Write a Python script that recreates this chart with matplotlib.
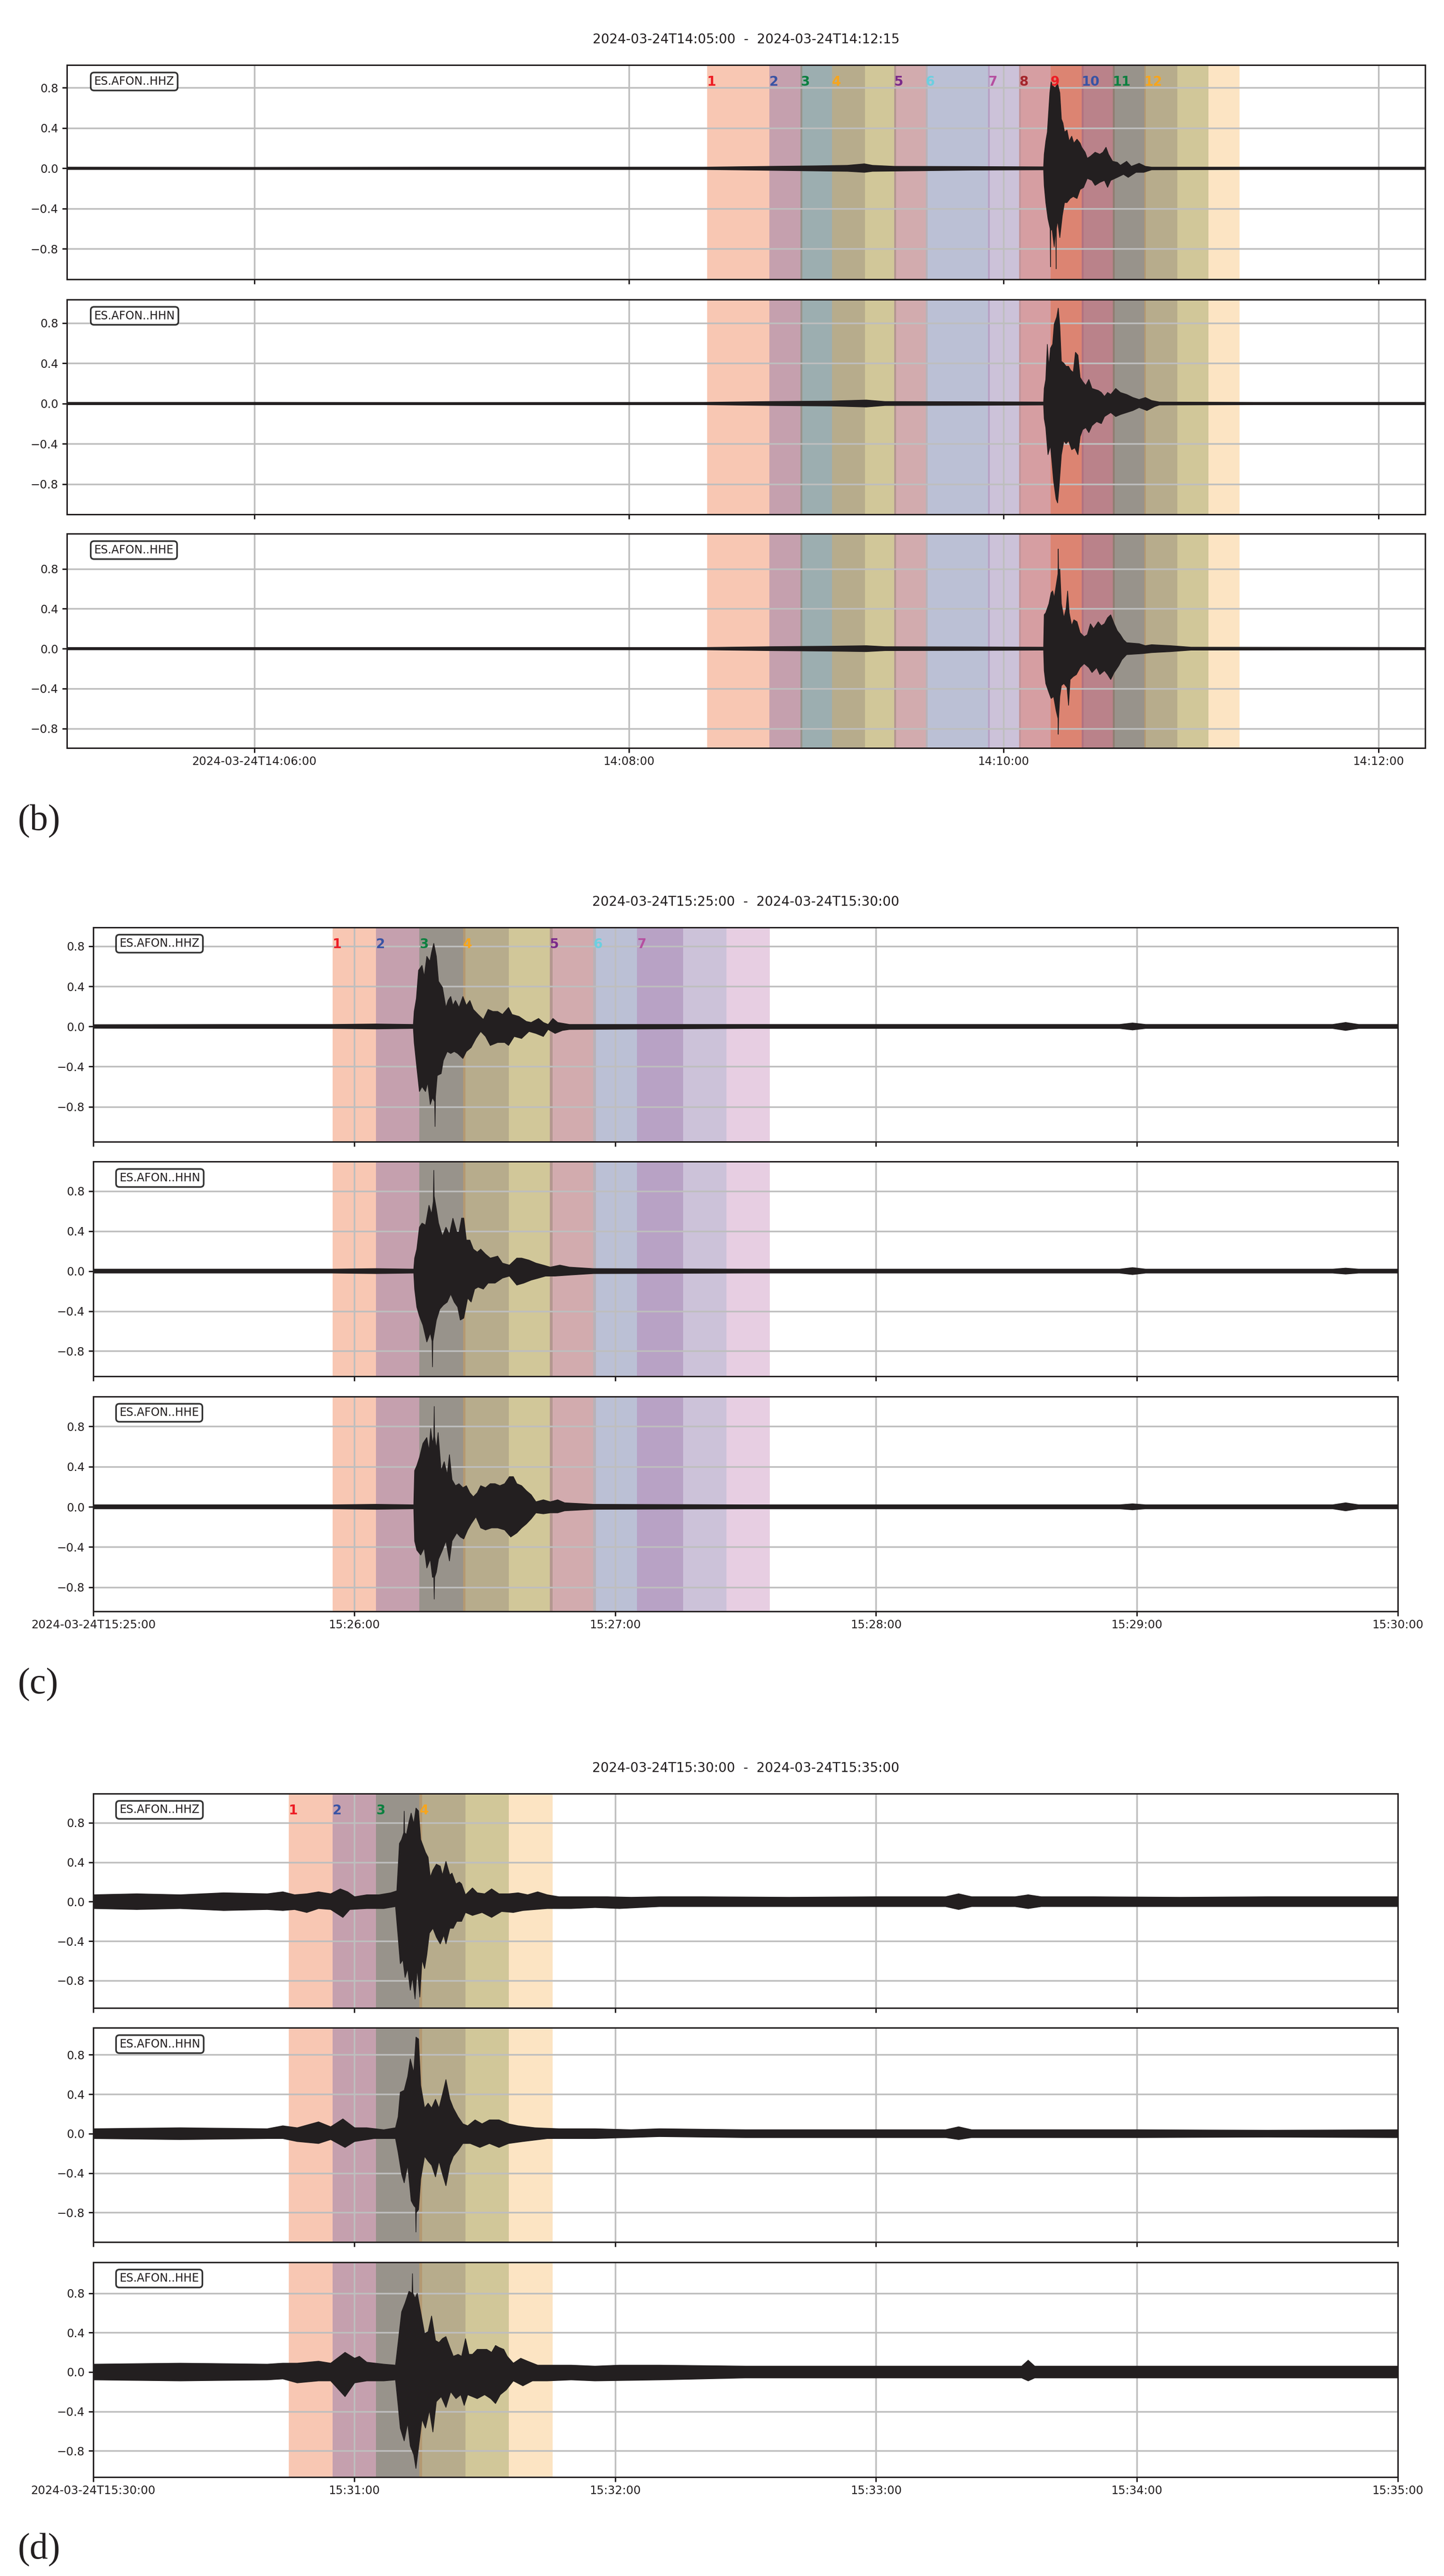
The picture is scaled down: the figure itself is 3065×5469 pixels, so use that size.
import numpy as np
import matplotlib
matplotlib.use("Agg")
import matplotlib.pyplot as plt
import matplotlib.transforms as mtransforms

# ---- window starts (s after panel start), each window lasts window_len seconds
window_len = 30.6
b_starts = [205, 225, 235, 245, 265, 275, 295, 305, 315, 325, 335, 345]
c_starts = [55, 65, 75, 85, 105, 115, 125]
d_starts = [45, 55, 65, 75]

span_colors = ['#eb4805', '#5246a3', '#32763b', '#f8a83a', '#742a7e', '#81c5d1', '#b25fa2', '#af320e']
label_colors = ['#ed1c24', '#3953a4', '#0c8040', '#f7a51c', '#7b2a8a', '#6dcfe0', '#b54fa0', '#a4262c']

channels = ['ES.AFON..HHZ', 'ES.AFON..HHN', 'ES.AFON..HHE']

b_title = '2024-03-24T14:05:00  -  2024-03-24T14:12:15'
c_title = '2024-03-24T15:25:00  -  2024-03-24T15:30:00'
d_title = '2024-03-24T15:30:00  -  2024-03-24T15:35:00'

b_ticks = [60, 180, 300, 420]
b_ticklabels = ['2024-03-24T14:06:00', '14:08:00', '14:10:00', '14:12:00']
c_ticks = [0, 60, 120, 180, 240, 300]
c_ticklabels = ['2024-03-24T15:25:00', '15:26:00', '15:27:00', '15:28:00', '15:29:00', '15:30:00']
d_ticks = [0, 60, 120, 180, 240, 300]
d_ticklabels = ['2024-03-24T15:30:00', '15:31:00', '15:32:00', '15:33:00', '15:34:00', '15:35:00']

# ---- trace envelopes: (seconds, amplitude)
b_z_up = [(0, 0.012), (60, 0.010), (120, 0.012), (204, 0.012), (225, 0.02), (240, 0.025), (250, 0.03),
          (255.4, 0.045), (258, 0.03), (265, 0.02), (290, 0.018), (312.8, 0.015),
          (313.0, 0.14), (313.5, 0.27), (314.0, 0.36), (314.8, 0.75), (315.2, 0.86), (315.7, 0.82),
          (316.5, 0.80), (317.3, 0.84), (318.0, 0.75), (318.5, 0.49), (319.0, 0.45), (319.5, 0.36),
          (320.3, 0.38), (321.0, 0.27), (321.8, 0.32), (322.5, 0.25), (323.5, 0.29), (324.5, 0.25),
          (325.0, 0.21), (326.1, 0.16), (326.8, 0.10), (327.8, 0.12), (329.3, 0.16), (330.8, 0.14),
          (331.8, 0.16), (332.8, 0.21), (333.6, 0.14), (334.9, 0.07), (336.4, 0.06), (337.4, 0.03),
          (339.4, 0.07), (340.9, 0.02), (343.4, 0.05), (345.4, 0.02), (347.4, 0.012), (380, 0.012),
          (435, 0.012)]
b_z_lo = [(0, -0.012), (120, -0.012), (204, -0.012), (225, -0.02), (250, -0.03), (255.4, -0.04),
          (258, -0.03), (290, -0.018), (312.8, -0.015),
          (313.0, -0.17), (313.5, -0.34), (314.2, -0.50), (314.9, -0.6), (315.0, -0.98), (315.1, -0.62),
          (315.5, -0.60), (316.2, -0.78), (316.7, -0.6), (316.8, -1.00), (316.9, -0.6), (317.3, -0.52),
          (318.0, -0.69), (318.8, -0.47), (319.5, -0.34), (320.3, -0.34), (321.3, -0.30), (322.3, -0.28),
          (323.5, -0.30), (324.5, -0.21), (325.6, -0.19), (326.8, -0.10), (328.3, -0.12), (329.3, -0.17),
          (330.8, -0.14), (332.3, -0.12), (333.3, -0.19), (334.3, -0.12), (336.4, -0.09), (338.4, -0.06),
          (339.9, -0.09), (342.4, -0.04), (344.9, -0.04), (347.4, -0.015), (380, -0.012), (435, -0.012)]

b_n_up = [(0, 0.012), (60, 0.012), (120, 0.010), (204, 0.012), (225, 0.02), (245, 0.025), (256, 0.035),
          (262, 0.02), (290, 0.018), (312.8, 0.015),
          (313.0, 0.15), (313.5, 0.24), (314.0, 0.59), (314.5, 0.37), (315.0, 0.55), (315.7, 0.59),
          (316.2, 0.79), (317.0, 0.86), (317.5, 0.95), (318.0, 0.77), (318.5, 0.42), (319.3, 0.40),
          (320.0, 0.37), (320.8, 0.37), (321.5, 0.33), (322.3, 0.31), (323.0, 0.51), (323.8, 0.48),
          (324.5, 0.26), (325.3, 0.22), (326.3, 0.18), (327.3, 0.24), (328.3, 0.15), (330.3, 0.13),
          (331.3, 0.11), (332.3, 0.07), (333.3, 0.11), (334.3, 0.09), (335.9, 0.15), (337.4, 0.11),
          (339.4, 0.09), (341.4, 0.06), (343.4, 0.04), (345.4, 0.06), (347.4, 0.03), (349.9, 0.015),
          (380, 0.012), (435, 0.012)]
b_n_lo = [(0, -0.012), (120, -0.012), (204, -0.012), (225, -0.02), (245, -0.025), (256, -0.035),
          (262, -0.02), (290, -0.018), (312.8, -0.015),
          (313.0, -0.15), (313.5, -0.24), (314.2, -0.51), (315.0, -0.42), (315.5, -0.59), (316.0, -0.77),
          (316.8, -0.95), (317.3, -0.99), (317.8, -0.81), (318.5, -0.51), (319.3, -0.37), (320.0, -0.40),
          (320.8, -0.37), (321.8, -0.46), (322.8, -0.44), (323.8, -0.51), (324.5, -0.33), (325.3, -0.26),
          (326.3, -0.24), (327.3, -0.29), (328.3, -0.22), (329.8, -0.18), (331.3, -0.20), (332.3, -0.13),
          (334.3, -0.09), (335.9, -0.13), (337.4, -0.11), (339.4, -0.09), (341.4, -0.07), (343.4, -0.04),
          (345.9, -0.07), (348.4, -0.03), (349.9, -0.015), (380, -0.012), (435, -0.012)]

b_e_up = [(0, 0.012), (60, 0.012), (120, 0.012), (204, 0.012), (225, 0.02), (245, 0.025), (256, 0.03),
          (262, 0.02), (290, 0.018), (312.8, 0.015),
          (313.0, 0.34), (313.5, 0.36), (314.5, 0.45), (315.2, 0.56), (315.7, 0.58), (316.2, 0.51),
          (317.0, 0.67), (317.4, 0.75), (317.5, 1.0), (317.6, 0.78), (318.0, 0.80), (318.5, 0.45),
          (319.3, 0.31), (320.0, 0.40), (320.5, 0.58), (321.0, 0.36), (321.8, 0.23), (322.5, 0.29),
          (323.5, 0.27), (324.5, 0.16), (325.8, 0.12), (326.8, 0.14), (327.8, 0.25), (328.8, 0.20),
          (330.3, 0.27), (331.3, 0.23), (332.3, 0.25), (333.3, 0.31), (334.3, 0.34), (335.4, 0.25),
          (336.4, 0.18), (337.4, 0.14), (338.4, 0.09), (339.4, 0.06), (343.4, 0.05), (345.4, 0.03),
          (347.4, 0.04), (353.5, 0.03), (360, 0.015), (435, 0.012)]
b_e_lo = [(0, -0.012), (120, -0.012), (204, -0.012), (225, -0.02), (245, -0.025), (256, -0.03),
          (262, -0.02), (290, -0.018), (312.8, -0.015),
          (313.0, -0.22), (313.5, -0.35), (314.5, -0.44), (315.2, -0.50), (316.0, -0.48), (316.8, -0.62),
          (317.4, -0.7), (317.5, -0.86), (317.6, -0.7), (318.0, -0.48), (318.5, -0.37), (319.3, -0.35),
          (320.3, -0.39), (320.8, -0.57), (321.3, -0.31), (322.3, -0.28), (323.3, -0.26), (324.5, -0.19),
          (325.8, -0.15), (327.3, -0.19), (328.3, -0.24), (329.8, -0.19), (330.8, -0.26), (332.3, -0.22),
          (333.3, -0.26), (334.3, -0.31), (335.4, -0.24), (336.9, -0.17), (337.9, -0.11), (339.4, -0.06),
          (344.4, -0.05), (347.4, -0.04), (353.5, -0.03), (360, -0.015), (435, -0.012)]

c_z_up = [(0, 0.018), (30, 0.02), (55, 0.02), (65, 0.025), (73.6, 0.02),
          (73.8, 0.15), (74.3, 0.28), (74.8, 0.56), (75.6, 0.61), (76.1, 0.50), (76.7, 0.70), (77.4, 0.65),
          (77.8, 0.74), (78.3, 0.83), (78.9, 0.70), (79.4, 0.45), (80.3, 0.39), (81.1, 0.19), (81.6, 0.26),
          (82.2, 0.30), (82.7, 0.21), (83.3, 0.26), (84.1, 0.19), (85.0, 0.30), (85.8, 0.21), (86.6, 0.26),
          (87.4, 0.17), (88.5, 0.12), (89.7, 0.07), (90.8, 0.17), (91.9, 0.15), (93.0, 0.15), (94.1, 0.12),
          (95.5, 0.19), (96.3, 0.12), (97.9, 0.10), (99.6, 0.05), (100.7, 0.04), (102.4, 0.08),
          (103.5, 0.04), (104.6, 0.02), (105.7, 0.08), (106.8, 0.04), (109.5, 0.02), (150, 0.02),
          (200, 0.02), (236, 0.02), (239, 0.035), (242, 0.02), (285, 0.02), (288, 0.04), (291, 0.02),
          (300, 0.02)]
c_z_lo = [(0, -0.018), (30, -0.02), (55, -0.02), (65, -0.025), (73.6, -0.02),
          (73.8, -0.16), (74.4, -0.41), (75.0, -0.65), (75.6, -0.60), (76.4, -0.65), (76.9, -0.56),
          (77.5, -0.78), (78.0, -0.71), (78.5, -0.75), (78.6, -1.0), (78.7, -0.7), (79.1, -0.49),
          (80.0, -0.47), (80.5, -0.34), (81.4, -0.25), (82.2, -0.27), (83.0, -0.25), (83.8, -0.27),
          (85.0, -0.32), (85.8, -0.25), (86.9, -0.21), (88.0, -0.12), (89.1, -0.05), (90.2, -0.10),
          (91.3, -0.19), (93.0, -0.16), (94.6, -0.16), (95.5, -0.19), (96.8, -0.10), (98.5, -0.12),
          (100.2, -0.05), (101.8, -0.07), (103.5, -0.10), (104.6, -0.03), (106.2, -0.07), (107.9, -0.04),
          (109.5, -0.03), (150, -0.02), (200, -0.02), (236, -0.02), (239, -0.035), (242, -0.02),
          (285, -0.02), (288, -0.04), (291, -0.02), (300, -0.02)]

c_n_up = [(0, 0.02), (30, 0.02), (55, 0.02), (65, 0.025), (73.7, 0.02),
          (73.9, 0.13), (74.4, 0.22), (75.0, 0.44), (75.6, 0.48), (76.4, 0.46), (77.2, 0.66), (77.8, 0.57),
          (78.2, 0.7), (78.3, 1.01), (78.4, 0.75), (78.9, 0.62), (79.4, 0.48), (80.3, 0.35), (81.1, 0.44),
          (81.9, 0.37), (82.7, 0.53), (83.6, 0.39), (84.1, 0.39), (84.7, 0.53), (85.2, 0.53), (85.8, 0.31),
          (86.6, 0.31), (87.4, 0.22), (88.3, 0.19), (89.1, 0.22), (90.2, 0.17), (91.3, 0.13), (93.0, 0.15),
          (94.1, 0.08), (95.7, 0.06), (97.4, 0.13), (98.5, 0.13), (100.2, 0.11), (101.8, 0.08),
          (103.5, 0.06), (105.1, 0.04), (107.3, 0.06), (109.5, 0.04), (115, 0.025), (150, 0.02),
          (236, 0.02), (239, 0.035), (242, 0.02), (285, 0.02), (288, 0.03), (291, 0.02), (300, 0.02)]
c_n_lo = [(0, -0.02), (30, -0.02), (55, -0.02), (65, -0.025), (73.7, -0.02),
          (73.9, -0.18), (74.4, -0.36), (75.0, -0.45), (75.8, -0.54), (76.7, -0.71), (77.5, -0.62),
          (77.9, -0.7), (78.0, -0.96), (78.1, -0.7), (78.9, -0.49), (79.7, -0.38), (80.5, -0.34),
          (81.4, -0.31), (82.2, -0.23), (83.0, -0.31), (83.8, -0.36), (84.4, -0.49), (85.2, -0.47),
          (86.1, -0.27), (86.9, -0.31), (87.7, -0.18), (88.5, -0.16), (89.7, -0.18), (90.8, -0.12),
          (92.4, -0.12), (94.1, -0.07), (95.7, -0.05), (97.4, -0.14), (99.0, -0.12), (100.7, -0.09),
          (102.4, -0.07), (104.0, -0.05), (106.2, -0.05), (109.5, -0.04), (115, -0.025), (150, -0.02),
          (236, -0.02), (239, -0.035), (242, -0.02), (285, -0.02), (288, -0.03), (291, -0.02),
          (300, -0.02)]

c_e_up = [(0, 0.02), (30, 0.02), (55, 0.02), (65, 0.025), (73.7, 0.02),
          (73.9, 0.36), (74.4, 0.41), (75.0, 0.49), (75.8, 0.63), (76.7, 0.69), (77.2, 0.56), (77.6, 0.78),
          (78.0, 0.63), (78.3, 0.7), (78.4, 1.0), (78.5, 0.7), (78.9, 0.58), (79.3, 0.74), (80.0, 0.36),
          (80.7, 0.45), (81.4, 0.32), (81.9, 0.52), (82.5, 0.27), (83.3, 0.21), (84.1, 0.23), (85.0, 0.19),
          (85.8, 0.21), (86.6, 0.14), (87.4, 0.10), (88.3, 0.14), (89.1, 0.21), (90.2, 0.19), (91.3, 0.23),
          (92.4, 0.23), (93.5, 0.21), (94.6, 0.23), (95.7, 0.30), (96.6, 0.30), (97.4, 0.23), (98.5, 0.21),
          (99.6, 0.16), (100.7, 0.12), (101.8, 0.05), (103.5, 0.07), (105.1, 0.05), (106.8, 0.07),
          (108.4, 0.04), (115, 0.025), (150, 0.02), (236, 0.02), (239, 0.03), (242, 0.02), (285, 0.02),
          (288, 0.04), (291, 0.02), (300, 0.02)]
c_e_lo = [(0, -0.02), (30, -0.02), (55, -0.02), (65, -0.025), (73.7, -0.02),
          (73.9, -0.34), (74.4, -0.43), (75.3, -0.48), (76.1, -0.41), (76.7, -0.61), (77.5, -0.52),
          (78.0, -0.70), (78.3, -0.7), (78.4, -0.92), (78.5, -0.7), (78.9, -0.65), (79.4, -0.52),
          (80.3, -0.43), (81.1, -0.34), (81.9, -0.54), (82.5, -0.34), (83.6, -0.26), (84.4, -0.30),
          (85.2, -0.32), (86.1, -0.23), (86.9, -0.17), (88.0, -0.10), (89.1, -0.21), (90.2, -0.23),
          (91.6, -0.21), (93.0, -0.21), (94.6, -0.23), (96.0, -0.30), (97.4, -0.26), (98.5, -0.21),
          (99.6, -0.17), (100.7, -0.12), (101.8, -0.06), (103.5, -0.07), (105.1, -0.06), (106.8, -0.06),
          (108.4, -0.04), (115, -0.025), (150, -0.02), (236, -0.02), (239, -0.03), (242, -0.02),
          (285, -0.02), (288, -0.04), (291, -0.02), (300, -0.02)]

d_z_up = [(0, 0.07), (10, 0.08), (20, 0.07), (30, 0.09), (40, 0.08),
          (43.6, 0.10), (46.3, 0.07), (49.1, 0.08), (51.8, 0.10), (54.6, 0.08), (56.8, 0.13), (58.5, 0.10),
          (60.1, 0.05), (62.9, 0.07), (65.7, 0.07), (68.4, 0.09), (69.8, 0.11), (70.4, 0.59), (70.9, 0.63),
          (71.4, 0.7), (71.5, 0.92), (71.6, 0.7), (72.0, 0.68), (72.6, 0.81), (73.1, 0.90), (73.7, 0.79),
          (74.2, 0.95), (74.8, 0.92), (75.3, 0.63), (75.9, 0.56), (76.4, 0.50), (77.0, 0.45), (77.5, 0.25),
          (78.1, 0.32), (78.9, 0.38), (79.8, 0.36), (80.3, 0.27), (81.1, 0.41), (82.0, 0.27), (82.5, 0.29),
          (83.4, 0.18), (84.2, 0.20), (84.7, 0.18), (85.6, 0.07), (87.2, 0.14), (88.3, 0.09), (90.0, 0.08),
          (91.6, 0.13), (93.3, 0.08), (95.5, 0.08), (97.7, 0.09), (99.9, 0.07), (102.2, 0.10),
          (104.4, 0.07), (107.1, 0.05), (112.7, 0.05), (118.2, 0.05), (123.7, 0.045), (130.2, 0.05),
          (140, 0.05), (160, 0.045), (180, 0.05), (196, 0.05), (199, 0.08), (202, 0.05), (212, 0.05),
          (215, 0.07), (218, 0.05), (230, 0.05), (250, 0.045), (270, 0.05), (290, 0.05), (300, 0.05)]
d_z_lo = [(0, -0.07), (10, -0.08), (20, -0.07), (30, -0.09), (40, -0.08),
          (43.6, -0.09), (46.3, -0.08), (49.1, -0.11), (51.8, -0.07), (54.6, -0.08), (57.4, -0.16),
          (59.0, -0.08), (62.9, -0.07), (66.8, -0.07), (69.5, -0.05), (70.1, -0.36), (70.6, -0.63),
          (71.2, -0.59), (71.7, -0.77), (72.3, -0.68), (72.9, -0.90), (73.4, -0.77), (74.0, -0.99),
          (74.5, -0.68), (75.1, -0.97), (75.6, -0.59), (76.2, -0.68), (76.7, -0.54), (77.3, -0.32),
          (78.1, -0.27), (78.9, -0.36), (79.8, -0.43), (80.6, -0.34), (81.1, -0.43), (82.0, -0.27),
          (82.8, -0.27), (83.6, -0.20), (84.7, -0.20), (85.6, -0.11), (87.2, -0.14), (89.4, -0.11),
          (91.6, -0.16), (93.9, -0.10), (96.6, -0.11), (98.8, -0.09), (101.6, -0.08), (104.4, -0.07),
          (109.9, -0.07), (115.4, -0.06), (121.0, -0.07), (130.2, -0.05), (140, -0.05), (160, -0.05),
          (180, -0.05), (196, -0.05), (199, -0.08), (202, -0.05), (212, -0.05), (215, -0.07),
          (218, -0.05), (230, -0.05), (250, -0.05), (270, -0.05), (290, -0.05), (300, -0.05)]

d_n_up = [(0, 0.05), (20, 0.06), (40, 0.05),
          (43.6, 0.08), (46.9, 0.06), (51.8, 0.12), (54.6, 0.07), (57.4, 0.15), (60.1, 0.06), (62.9, 0.06),
          (66.8, 0.04), (69.5, 0.06), (70.1, 0.17), (70.6, 0.42), (71.5, 0.44), (72.3, 0.58), (72.9, 0.76),
          (73.7, 0.62), (74.2, 0.98), (74.8, 0.96), (75.3, 0.49), (76.2, 0.26), (77.0, 0.31), (77.8, 0.26),
          (78.7, 0.35), (79.5, 0.26), (80.3, 0.40), (81.1, 0.55), (82.0, 0.35), (82.8, 0.26), (83.9, 0.17),
          (85.0, 0.10), (86.1, 0.08), (87.8, 0.14), (89.4, 0.10), (91.1, 0.14), (93.3, 0.14), (95.5, 0.10),
          (97.7, 0.08), (101.6, 0.06), (107.1, 0.05), (115.4, 0.05), (123.7, 0.04), (130.2, 0.05),
          (150, 0.04), (196, 0.04), (199, 0.07), (202, 0.04), (240, 0.04), (270, 0.035), (300, 0.04)]
d_n_lo = [(0, -0.05), (20, -0.06), (40, -0.05),
          (43.6, -0.05), (46.9, -0.08), (51.8, -0.10), (54.6, -0.06), (57.9, -0.14), (60.1, -0.08),
          (64.6, -0.05), (69.5, -0.05), (70.1, -0.19), (70.9, -0.41), (71.5, -0.50), (72.3, -0.32),
          (73.1, -0.68), (73.7, -0.73), (74.1, -0.75), (74.2, -1.0), (74.3, -0.8), (74.8, -0.77),
          (75.3, -0.46), (76.2, -0.23), (77.0, -0.28), (77.8, -0.32), (78.7, -0.44), (79.5, -0.28),
          (80.3, -0.41), (81.1, -0.53), (82.0, -0.32), (82.8, -0.23), (83.9, -0.17), (85.0, -0.10),
          (86.7, -0.10), (88.9, -0.14), (91.1, -0.10), (93.3, -0.14), (95.5, -0.10), (98.8, -0.08),
          (104.4, -0.05), (115.4, -0.05), (130.2, -0.03), (150, -0.04), (196, -0.04), (199, -0.06),
          (202, -0.04), (240, -0.04), (270, -0.035), (300, -0.04)]

d_e_up = [(0, 0.08), (20, 0.09), (40, 0.08),
          (43.6, 0.09), (46.9, 0.09), (51.8, 0.11), (54.6, 0.09), (57.9, 0.20), (60.1, 0.14), (61.2, 0.16),
          (62.9, 0.10), (66.8, 0.08), (69.5, 0.07), (70.1, 0.30), (70.9, 0.61), (71.7, 0.70), (72.6, 0.82),
          (73.3, 0.8), (73.4, 1.0), (73.5, 0.8), (74.0, 0.75), (74.5, 0.80), (75.3, 0.61), (76.2, 0.39),
          (77.0, 0.41), (77.8, 0.57), (78.7, 0.32), (79.5, 0.30), (80.3, 0.34), (81.1, 0.36), (82.0, 0.25),
          (82.8, 0.16), (83.9, 0.18), (84.7, 0.16), (85.6, 0.34), (86.4, 0.18), (87.2, 0.18), (88.3, 0.23),
          (89.4, 0.23), (90.5, 0.23), (91.6, 0.20), (92.5, 0.27), (93.3, 0.25), (94.4, 0.23), (95.2, 0.16),
          (96.6, 0.09), (98.3, 0.14), (99.9, 0.11), (102.2, 0.07), (109.9, 0.07), (115.4, 0.06),
          (121.0, 0.07), (130.2, 0.07), (150, 0.06), (180, 0.06), (213.5, 0.06), (215, 0.12),
          (216.5, 0.06), (250, 0.06), (280, 0.06), (300, 0.06)]
d_e_lo = [(0, -0.08), (20, -0.09), (40, -0.08),
          (43.6, -0.07), (46.9, -0.11), (51.8, -0.09), (54.6, -0.09), (57.9, -0.25), (60.1, -0.11),
          (62.9, -0.09), (66.8, -0.09), (69.5, -0.08), (70.1, -0.34), (70.6, -0.57), (71.5, -0.70),
          (72.3, -0.52), (72.9, -0.75), (73.7, -0.84), (74.2, -0.98), (75.1, -0.66), (75.6, -0.48),
          (76.4, -0.57), (77.3, -0.39), (78.1, -0.61), (78.9, -0.30), (80.0, -0.25), (81.1, -0.36),
          (82.2, -0.20), (83.4, -0.27), (84.5, -0.23), (85.3, -0.34), (86.1, -0.23), (87.2, -0.25),
          (88.3, -0.27), (90.0, -0.23), (91.4, -0.27), (92.5, -0.32), (93.6, -0.23), (95.0, -0.18),
          (96.6, -0.09), (98.8, -0.14), (101.0, -0.09), (104.4, -0.09), (109.9, -0.08), (115.4, -0.09),
          (130.2, -0.08), (150, -0.06), (180, -0.06), (213.5, -0.06), (215, -0.09), (216.5, -0.06),
          (250, -0.06), (280, -0.06), (300, -0.06)]

INK = '#231f20'
W, H = 3065, 5469

plt.rcParams.update({
    'font.family': 'DejaVu Sans',
    'axes.linewidth': 2.2,
    'axes.edgecolor': INK,
    'xtick.major.size': 7.2, 'ytick.major.size': 7.2,
    'xtick.major.width': 2.2, 'ytick.major.width': 2.2,
    'xtick.major.pad': 5, 'ytick.major.pad': 6,
    'xtick.labelsize': 17.5, 'ytick.labelsize': 17.5,
    'xtick.color': INK, 'ytick.color': INK,
    'text.color': INK,
})

fig = plt.figure(figsize=(W / 100, H / 100), dpi=100)


def px_axes(left, right, top, bottom):
    return fig.add_axes([left / W, 1 - bottom / H, (right - left) / W, (bottom - top) / H])


def draw_env(ax, up, lo):
    tu, au = np.array(up).T
    tl, al = np.array(lo).T
    ax.fill(np.r_[tu, tl[::-1]], np.r_[au, al[::-1]], color=INK, lw=1.0, zorder=3)


panels = [
    dict(left=142, right=3025, tops=[138.3, 635.7, 1133.2], bots=[592.7, 1092, 1587.6],
         ylims=[(-1.101, 1.025), (-1.102, 1.035), (-0.994, 1.152)], xmax=435,
         starts=b_starts, traces=[(b_z_up, b_z_lo), (b_n_up, b_n_lo), (b_e_up, b_e_lo)],
         ticks=b_ticks, ticklabels=b_ticklabels, title=b_title, tag='(b)', tag_y=1744),
    dict(left=198, right=2967, tops=[1968.7, 2466.2, 2964.6], bots=[2424, 2921.5, 3420.9],
         ylims=[(-1.150, 0.989), (-1.050, 1.095), (-1.039, 1.098)], xmax=300,
         starts=c_starts, traces=[(c_z_up, c_z_lo), (c_n_up, c_n_lo), (c_e_up, c_e_lo)],
         ticks=c_ticks, ticklabels=c_ticklabels, title=c_title, tag='(c)', tag_y=3577),
    dict(left=198, right=2967, tops=[3807.7, 4305.1, 4802.6], bots=[4263, 4759.5, 5258.9],
         ylims=[(-1.078, 1.097), (-1.097, 1.074), (-1.065, 1.115)], xmax=300,
         starts=d_starts, traces=[(d_z_up, d_z_lo), (d_n_up, d_n_lo), (d_e_up, d_e_lo)],
         ticks=d_ticks, ticklabels=d_ticklabels, title=d_title, tag='(d)', tag_y=5414),
]

for p in panels:
    for k in range(3):
        ax = px_axes(p['left'], p['right'], p['tops'][k], p['bots'][k])
        ax.set_xlim(0, p['xmax'])
        ax.set_ylim(*p['ylims'][k])
        ax.set_axisbelow('line')
        ax.grid(True, color='#bebebe', lw=2.5)
        ax.set_yticks([-0.8, -0.4, 0.0, 0.4, 0.8])
        if k == 2:
            ax.set_xticks(p['ticks'], p['ticklabels'])
        else:
            ax.set_xticks(p['ticks'], [''] * len(p['ticks']))
        for i, s in enumerate(p['starts']):
            ax.axvspan(s, s + window_len, color=span_colors[i % 8], alpha=0.3, lw=0, zorder=1)
        up, lo = p['traces'][k]
        draw_env(ax, up, lo)
        ax.text(0.02, 0.95, channels[k], transform=ax.transAxes, ha='left', va='top', fontsize=17,
                zorder=5, bbox=dict(boxstyle='round', fc='w', ec='k', alpha=0.8, lw=2.5))
        if k == 0:
            trans = mtransforms.blended_transform_factory(ax.transData, ax.transAxes)
            for i, s in enumerate(p['starts']):
                ax.text(s, 0.952, str(i + 1), transform=trans, ha='left', va='top', fontsize=20,
                        fontweight='bold', color=label_colors[i % 8], zorder=6)
    cx = (p['left'] + p['right']) / 2 / W
    fig.text(cx, 1 - (p['tops'][0] - 54) / H, p['title'], ha='center', va='center', fontsize=20)
    fig.text(38 / W, 1 - p['tag_y'] / H, p['tag'], ha='left', va='center', fontsize=56,
             family=['Liberation Serif', 'DejaVu Serif'])

fig.savefig('out.png', dpi=100)
